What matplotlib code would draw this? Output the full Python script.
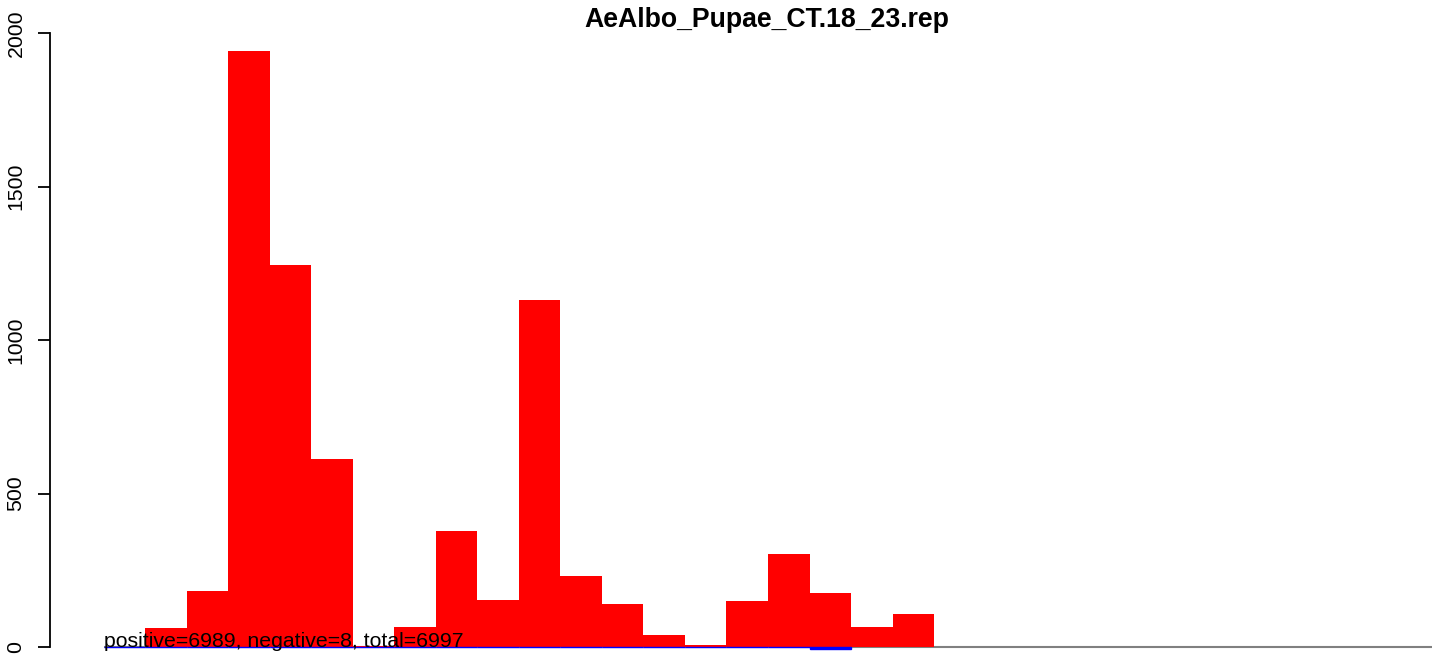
import numpy as np
import matplotlib.pyplot as plt

plt.rcParams['font.family'] = ['Liberation Sans', 'DejaVu Sans']

title = 'AeAlbo_Pupae_CT.18_23.rep'
# counts per bin (red = positive, blue = negative)
pos = [0, 62, 181, 1942, 1244, 614, 3, 65, 377, 153, 1130, 231, 141, 39, 5, 151, 302, 176, 65, 108]
neg = [0] * 17 + [-8]
n_bins = 32
yticks = [0, 500, 1000, 1500, 2000]

# pixel mapping of the original R plot
W, H = 1444, 655
x0_px, bw_px = 103.5, 41.53
y0_px, yscale = 647, 0.307

fig = plt.figure(figsize=(W / 100, H / 100), dpi=100)
ax = fig.add_axes([0, 0, 1, 1])
ax.set_xlim((0 - x0_px) / bw_px, (W - x0_px) / bw_px)
ax.set_ylim((y0_px - H) / yscale, y0_px / yscale)

ax.hlines(0, 0, n_bins, color='#808080', lw=1.5, zorder=1)
ax.bar(np.arange(len(pos)), pos, width=1, align='edge', color='red', lw=0, zorder=2)
ax.bar(np.arange(len(neg)), neg, width=1, align='edge', color='blue', edgecolor='blue', lw=1.0, zorder=3)

ax.text(0, 0, 'positive=6989, negative=8, total=6997', fontsize=15.3, ha='left', va='baseline', zorder=4)

for s in ['top', 'right', 'bottom']:
    ax.spines[s].set_visible(False)
ax.spines['left'].set_position(('data', (50 - x0_px) / bw_px))
ax.spines['left'].set_bounds(0, 2000)
ax.spines['left'].set_linewidth(1.3)
ax.set_xticks([])
ax.set_yticks(yticks)
ax.set_yticklabels([str(t) for t in yticks], rotation=90, va='center', fontsize=15.3)
ax.tick_params(axis='y', length=8.6, width=1.3, pad=9)

fig.text(767 / W, 1 - 20 / H, title, fontsize=19.2, fontweight='bold', ha='center', va='center')

fig.savefig('out.png', dpi=100)
